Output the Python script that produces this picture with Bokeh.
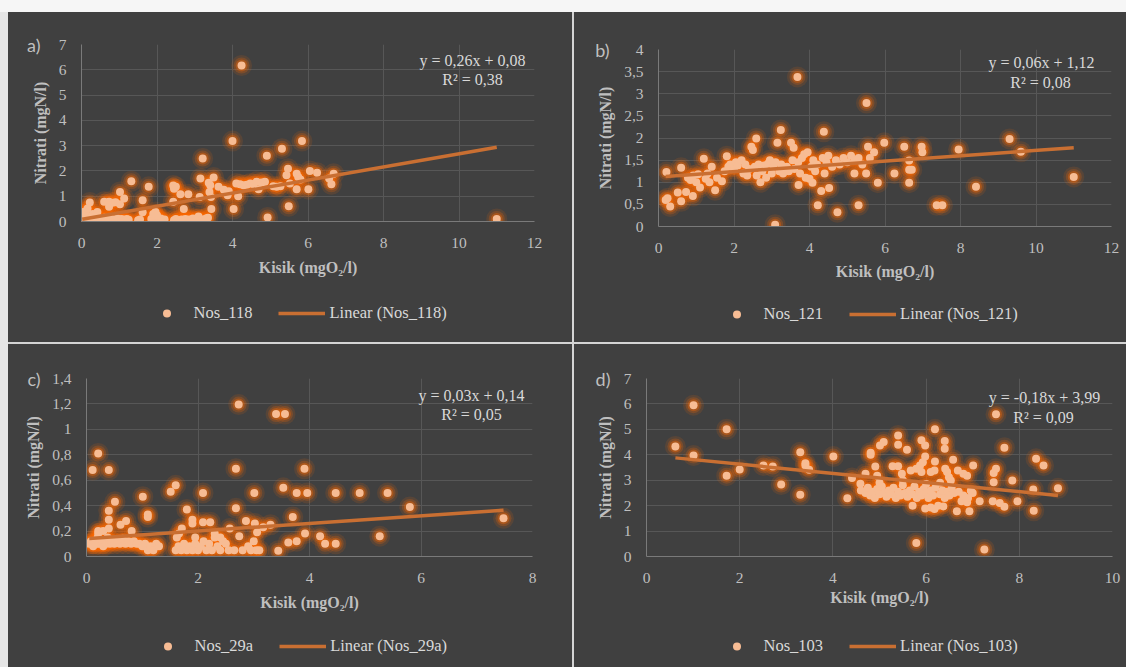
from bokeh.plotting import figure
from bokeh.models import (Range1d, FixedTicker, CustomJSTickFormatter, Legend,
                          LegendItem, Label, ColumnDataSource, Spacer, LinearAxis)
from bokeh.layouts import column, row
from bokeh.embed import file_html
from bokeh.resources import INLINE

# ---------------- data ----------------
nos118_pts = [
    (0.05,0.1),(0.08,0.05),(0.1,0.15),(0.12,0.05),(0.15,0.2),(0.18,0.1),(0.2,0.05),(0.22,0.12),
    (0.25,0.08),(0.28,0.15),(0.3,0.05),(0.33,0.1),(0.35,0.2),(0.4,0.08),(0.45,0.12),(0.5,0.05),
    (0.55,0.1),(0.6,0.15),(0.65,0.08),(0.7,0.05),(0.75,0.12),(0.8,0.1),(0.85,0.05),(0.9,0.08),
    (0.95,0.12),(1.0,0.05),(1.05,0.1),(1.1,0.08),(1.15,0.05),(1.2,0.1),(1.25,0.07),(1.5,0.05),
    (1.55,0.08),(1.85,0.1),(1.9,0.05),(1.95,0.15),(2.0,0.08),(2.05,0.05),(2.1,0.12),(2.15,0.05),
    (2.2,0.08),(2.45,0.05),(2.5,0.1),(2.55,0.05),(2.65,0.08),(2.7,0.05),(2.75,0.1),(2.8,0.05),
    (2.85,0.08),(2.9,0.05),(2.95,0.12),(3.05,0.1),(3.1,0.2),(3.2,0.08),(3.25,0.05),(3.3,0.12),
    (3.35,0.15),
    (0.02,0.3),(0.05,0.25),(0.1,0.4),(0.07,0.38),(0.16,0.51),(0.22,0.75),(0.42,0.38),(0.3,0.3),
    (0.6,0.78),(0.73,0.78),(0.82,0.74),(0.73,0.58),(0.9,0.76),(1.02,0.68),(1.13,0.91),(1.02,1.17),
    (1.32,1.59),(1.78,1.37),(1.62,0.84),(1.62,0.37),(1.96,0.38),(2.0,0.25),(1.9,0.3),(2.43,1.42),
    (2.5,1.37),(2.45,1.3),(2.62,1.08),(2.83,1.08),(2.43,0.78),(2.71,0.49),(3.21,2.49),(3.15,1.7),
    (3.5,1.74),(3.37,1.53),(3.41,1.43),(3.63,1.37),(3.77,1.26),(3.39,1.17),(3.87,1.04),(4.15,1.0),
    (3.13,0.97),(3.43,0.97),(4.03,0.49),(3.44,0.49),(4.0,3.18),(4.24,6.17),(4.91,2.6),(5.31,2.88),
    (5.84,3.18),(4.93,0.16),(5.49,0.6),(4.2,1.47),(4.29,1.43),(4.38,1.45),(4.47,1.5),(4.55,1.48),
    (4.64,1.57),(4.69,1.28),(4.77,1.54),(4.86,1.57),(5.08,1.39),(5.17,1.37),(5.27,1.39),(5.47,2.09),
    (5.43,1.83),(5.52,1.5),(5.7,1.89),(5.74,1.76),(5.8,1.66),(5.7,1.28),(6.01,1.28),(6.05,2.0),
    (6.24,1.93),(6.56,1.7),(6.62,1.47),(6.68,1.89),(3.9,1.2),(4.1,1.5),(11.0,0.1),
]

nos121_pts = [
    (0.21,1.23),(0.19,0.6),(0.24,0.64),(0.31,0.45),(0.51,0.77),(0.6,0.57),(0.6,1.33),(0.73,0.78),
    (0.91,0.69),(0.78,1.1),(0.85,1.05),(0.92,1.15),(1.0,1.0),(1.1,0.88),(1.05,1.18),(1.2,1.53),
    (1.25,1.08),(1.3,1.2),(1.35,1.0),(1.41,1.35),(1.5,0.82),(1.55,1.1),(1.68,1.02),(1.81,1.59),
    (1.75,1.25),(1.85,1.35),(1.9,1.4),(2.0,1.3),(2.05,1.45),(2.1,1.38),(2.2,1.5),(2.25,1.2),
    (2.3,1.4),(2.35,1.15),(2.4,1.3),(2.46,1.8),(2.5,1.73),(2.59,1.99),(2.55,1.35),(2.6,1.15),
    (2.65,1.4),(2.7,1.0),(2.75,1.25),(2.8,1.38),(2.85,1.1),(2.9,1.42),(2.95,1.5),(3.0,1.2),
    (3.05,1.35),(3.09,0.04),(3.15,1.89),(3.1,1.45),(3.2,1.25),(3.24,2.18),(3.25,1.4),(3.3,1.2),
    (3.4,1.35),(3.45,1.25),(3.51,1.89),(3.58,1.78),(3.55,1.5),(3.6,1.3),(3.68,3.38),(3.71,0.94),
    (3.7,1.45),(3.75,1.2),(3.8,1.55),(3.86,1.63),(3.95,1.68),(3.9,1.1),(4.0,1.08),(4.08,0.99),
    (4.05,1.35),(4.1,1.5),(4.15,1.25),(4.22,0.48),(4.2,1.4),(4.31,0.8),(4.38,2.14),(4.35,1.55),
    (4.4,1.2),(4.45,1.45),(4.52,0.87),(4.5,1.6),(4.6,1.35),(4.7,1.5),(4.74,0.32),(4.8,1.4),
    (4.9,1.55),(5.0,1.45),(5.1,1.6),(5.19,1.2),(5.2,1.5),(5.3,0.48),(5.3,1.55),(5.4,1.4),
    (5.5,1.2),(5.51,2.79),(5.55,1.8),(5.6,1.55),(5.71,1.68),(5.81,0.99),(5.98,1.89),(6.25,1.2),
    (6.51,1.8),(6.64,1.49),(6.64,1.28),(6.71,1.28),(6.64,0.99),(6.97,1.8),(6.99,1.68),(7.37,0.48),
    (7.52,0.48),(7.95,1.74),(8.41,0.9),(9.3,1.98),(9.6,1.69),(11.0,1.12),
]

nos29a_pts = [
    (0.05,0.1),(0.08,0.12),(0.1,0.1),(0.12,0.08),(0.15,0.12),(0.18,0.1),(0.2,0.15),(0.22,0.1),
    (0.25,0.12),(0.28,0.1),(0.3,0.08),(0.32,0.12),(0.35,0.1),(0.38,0.15),(0.42,0.1),(0.45,0.12),
    (0.5,0.1),(0.55,0.12),(0.6,0.1),(0.65,0.14),(0.7,0.1),(0.75,0.12),(0.8,0.1),(0.85,0.12),
    (0.9,0.1),(0.95,0.1),(1.0,0.08),(1.05,0.1),(1.1,0.05),(1.15,0.08),(1.2,0.05),(1.25,0.1),
    (1.3,0.08),
    (0.11,0.68),(0.21,0.81),(0.4,0.68),(0.21,0.2),(0.21,0.18),(0.4,0.36),(0.4,0.29),(0.4,0.22),
    (0.51,0.43),(0.61,0.25),(0.71,0.28),(0.81,0.2),(1.01,0.47),(1.1,0.33),(1.1,0.31),(0.3,0.2),
    (1.6,0.05),(1.65,0.08),(1.7,0.05),(1.75,0.1),(1.8,0.05),(1.85,0.08),(1.9,0.05),(1.95,0.1),
    (2.0,0.05),(2.05,0.08),(2.1,0.12),(2.15,0.05),(2.2,0.1),(2.25,0.05),(2.3,0.15),(2.35,0.08),
    (2.4,0.05),(2.45,0.12),(2.5,0.1),(2.55,0.05),(2.65,0.05),(2.8,0.05),(2.9,0.08),(2.95,0.05),
    (3.0,0.12),(3.05,0.05),(3.1,0.05),
    (1.51,0.51),(1.6,0.56),(1.62,0.15),(1.66,0.18),(1.71,0.22),(1.8,0.37),(1.9,0.29),(1.9,0.26),
    (2.09,0.5),(2.09,0.27),(2.22,0.27),(2.57,0.22),(2.68,0.38),(2.68,0.69),(2.73,1.195),(2.74,0.16),
    (2.86,0.28),(3.01,0.5),(3.02,0.26),(3.06,0.19),(3.17,0.23),(3.3,0.25),(3.4,1.12),(3.44,0.045),
    (3.53,0.54),(3.56,1.12),(3.62,0.11),(3.7,0.31),(3.77,0.12),(3.77,0.5),(3.91,0.69),(3.92,0.18),
    (3.96,0.5),(4.19,0.16),(4.28,0.1),(4.47,0.1),(4.47,0.5),(4.9,0.5),(5.26,0.16),(5.4,0.5),
    (5.8,0.39),(7.48,0.3),(2.3,0.18),(2.4,0.15),(1.95,0.15),
]

nos103_pts = [
    (0.62,4.33),(1.01,5.95),(1.01,3.97),(1.72,5.0),(1.72,3.18),(2.0,3.42),(2.51,3.58),(2.71,3.54),
    (2.89,2.83),(3.3,4.1),(3.3,2.43),(3.41,3.67),(3.41,3.58),(3.49,3.41),(4.01,3.93),(4.41,3.09),
    (4.31,2.29),(4.59,2.86),
    (4.7,3.25),(4.81,4.08),(4.81,4.0),(4.91,3.54),(4.95,3.18),(5.01,4.37),(5.09,4.5),(5.28,3.55),
    (5.4,3.55),(5.4,4.76),(5.4,4.39),(5.48,3.25),(5.59,4.2),(5.67,3.38),(5.79,3.45),(5.87,3.58),
    (5.9,4.57),(5.9,3.32),(5.93,3.71),(5.98,4.37),(5.98,3.93),(6.1,3.32),(6.18,3.38),(6.19,5.0),
    (6.19,3.74),(6.4,4.54),(6.4,4.24),(6.41,3.45),(6.45,3.32),(6.49,3.12),(6.53,2.99),(6.58,3.8),
    (6.68,3.38),(6.8,3.25),(6.88,3.18),(7.01,3.58),
    (4.6,2.6),(4.7,2.5),(4.75,2.7),(4.8,2.4),(4.85,2.55),(4.9,2.3),(4.95,2.65),(5.0,2.45),
    (5.05,2.75),(5.1,2.5),(5.15,2.35),(5.2,2.6),(5.25,2.45),(5.3,2.7),(5.35,2.3),(5.4,2.55),
    (5.45,2.4),(5.5,2.8),(5.55,2.5),(5.6,2.35),(5.65,2.6),(5.7,2.45),(5.71,2.0),(5.75,2.75),
    (5.8,2.3),(5.85,2.55),(5.9,2.4),(5.95,2.65),(5.98,1.89),(6.0,2.5),(6.05,2.3),(6.1,1.93),
    (6.1,2.6),(6.15,2.4),(6.18,1.87),(6.2,2.7),(6.26,2.0),(6.3,2.45),(6.37,1.97),(6.35,2.6),
    (6.4,2.3),(6.45,2.55),(6.5,2.4),(6.55,2.7),(6.6,2.5),(6.66,1.78),(6.7,2.55),(6.76,2.17),
    (6.8,2.4),(6.88,2.13),(6.9,2.3),(6.93,1.78),(6.96,2.59),(7.0,2.5),(5.0,2.9),(5.5,3.0),
    (6.0,2.85),(6.3,2.9),
    (7.15,2.17),(7.43,2.17),(7.45,3.28),(7.45,2.92),(7.5,3.45),(7.5,5.59),(7.58,2.1),(7.68,4.28),
    (7.68,1.96),(7.85,2.99),(7.96,2.17),(8.3,2.63),(8.31,1.8),(8.36,3.84),(8.52,3.58),(8.83,2.68),
    (5.79,0.53),(7.25,0.28),
]

series_names = ["Nos_118", "Nos_121", "Nos_29a", "Nos_103"]
panel_tags = ["a)", "b)", "c)", "d)"]
trend_slope = [0.26, 0.06, 0.03, -0.18]
trend_icpt = [0.08, 1.12, 0.14, 3.99]
eq_texts = ["y = 0,26x + 0,08", "y = 0,06x + 1,12", "y = 0,03x + 0,14", "y = -0,18x + 3,99"]
r2_texts = ["R² = 0,38", "R² = 0,08", "R² = 0,05", "R² = 0,09"]
x_ticks = [[0, 2, 4, 6, 8, 10, 12], [0, 2, 4, 6, 8, 10, 12], [0, 2, 4, 6, 8], [0, 2, 4, 6, 8, 10]]
y_ticks = [[0, 1, 2, 3, 4, 5, 6, 7],
           [0, 0.5, 1, 1.5, 2, 2.5, 3, 3.5, 4],
           [0, 0.2, 0.4, 0.6, 0.8, 1.0, 1.2, 1.4],
           [0, 1, 2, 3, 4, 5, 6, 7]]
x_title = "Kisik (mgO₂/l)"
y_title = "Nitrati (mgN/l)"
all_pts = [nos118_pts, nos121_pts, nos29a_pts, nos103_pts]

# ---------------- layout / style ----------------
BG = "#404040"
GRID = "#575757"
AXIS = "#7a7a7a"
TICK_C = "#bfbfbf"
TEXT_C = "#d9d9d9"
DOT = "#F7BC94"
GLOW = "#ff6a00"
TREND = "#C96F32"
SERIF = "Liberation Serif"
GAP = "#d4d4d4"
NAN = float("nan")

# main figure geometry (w, h, borders), legend strip height and legend offset, tag standoff
geom = [
    dict(w=564, h=278, l=73, r=38, t=32, b=69, lh=52, leg=(61.5, 19), eq=(391, 161), r2=(391, 142), tag=-18, xs=8),
    dict(w=552, h=278, l=84, r=15, t=37, b=64, lh=52, leg=(54.5, 18), eq=(383, 164), r2=(382, 144), tag=-21, xs=7),
    dict(w=564, h=282, l=78, r=40, t=34, b=70, lh=41, leg=(57.5, 11), eq=(385, 161), r2=(385, 142), tag=-24, xs=8),
    dict(w=552, h=282, l=72, r=14, t=34, b=70, lh=41, leg=(66.5, 11), eq=(398, 159), r2=(397, 139), tag=-23, xs=3),
]

fmt_code = "return (Math.round(tick*10)/10).toString().replace('.', ',');"


def style_axis(ax):
    ax.major_tick_line_color = None
    ax.minor_tick_line_color = None
    ax.major_label_text_font = SERIF
    ax.major_label_text_font_size = "15.5px"
    ax.major_label_text_color = TICK_C
    ax.axis_label_text_font = SERIF
    ax.axis_label_text_font_size = "16px"
    ax.axis_label_text_font_style = "bold"
    ax.axis_label_text_color = TICK_C


def make_panel(i):
    g = geom[i]
    pts = all_pts[i]
    xs = [p[0] for p in pts]
    ys = [p[1] for p in pts]
    src = ColumnDataSource(dict(x=xs, y=ys))
    p = figure(width=g["w"], height=g["h"], title=None, toolbar_location=None,
               output_backend="svg",
               x_range=Range1d(x_ticks[i][0], x_ticks[i][-1]),
               y_range=Range1d(y_ticks[i][0], y_ticks[i][-1]),
               min_border_left=g["l"], min_border_right=g["r"],
               min_border_top=g["t"], min_border_bottom=g["b"])
    p.background_fill_color = BG
    p.border_fill_color = BG
    p.outline_line_color = None

    for ax, ticks in ((p.xaxis, x_ticks[i]), (p.yaxis, y_ticks[i])):
        ax.ticker = FixedTicker(ticks=ticks)
        ax.formatter = CustomJSTickFormatter(code=fmt_code)
        ax.axis_line_color = AXIS
        ax.axis_line_width = 1
        style_axis(ax)
    p.xaxis.major_label_standoff = 10
    p.yaxis.major_label_standoff = 9
    p.xaxis.axis_label = x_title
    p.yaxis.axis_label = y_title
    p.xaxis.axis_label_standoff = g["xs"]
    p.yaxis.axis_label_standoff = 7
    p.xgrid.grid_line_color = GRID
    p.ygrid.grid_line_color = GRID

    # panel tag a), b) ... carried by an extra left axis at the top of the y range
    tag_ax = LinearAxis(ticker=FixedTicker(ticks=[y_ticks[i][-1]]),
                        formatter=CustomJSTickFormatter(args=dict(t=panel_tags[i]), code="return t;"),
                        axis_line_color=None, major_label_standoff=g["tag"])
    style_axis(tag_ax)
    tag_ax.major_label_text_font = "Lato"
    tag_ax.major_label_text_font_size = "18px"
    p.add_layout(tag_ax, "left")

    # soft glow + dots
    p.scatter("x", "y", source=src, size=21, fill_color=GLOW, fill_alpha=0.12, line_color=None)
    p.scatter("x", "y", source=src, size=16, fill_color=GLOW, fill_alpha=0.22, line_color=None)
    p.scatter("x", "y", source=src, size=12, fill_color=GLOW, fill_alpha=0.35, line_color=None)
    p.scatter("x", "y", source=src, size=8, fill_color=DOT, line_color=None)

    x0, x1 = min(xs), max(xs)
    tx = [x0, x1]
    ty = [trend_slope[i] * x0 + trend_icpt[i], trend_slope[i] * x1 + trend_icpt[i]]
    p.line(tx, ty, line_color=TREND, line_width=3.5)

    for txt, pos in ((eq_texts[i], g["eq"]), (r2_texts[i], g["r2"])):
        p.add_layout(Label(x=pos[0], y=pos[1], x_units="screen", y_units="screen", text=txt,
                           text_align="center", text_baseline="middle", text_font=SERIF,
                           text_font_size="16px", text_color=TEXT_C))

    # legend strip under the chart (frame aligned with the chart frame)
    q = figure(width=g["w"], height=g["lh"], title=None, toolbar_location=None,
               output_backend="svg", x_axis_type=None, y_axis_type=None,
               x_range=Range1d(0, 1), y_range=Range1d(0, 1),
               min_border_left=g["l"], min_border_right=g["r"], min_border_top=0, min_border_bottom=0)
    q.background_fill_alpha = 0
    q.border_fill_alpha = 0
    q.outline_line_color = None
    q.styles = {"background-color": BG}
    dot_r = q.scatter(x=[NAN], y=[NAN], size=8, fill_color=DOT, line_color=None)
    line_r = q.line(x=[NAN, NAN], y=[NAN, NAN], line_color=TREND, line_width=3.5)
    leg = Legend(items=[LegendItem(label=series_names[i], renderers=[dot_r]),
                        LegendItem(label="Linear (%s)" % series_names[i], renderers=[line_r])],
                 location=g["leg"], orientation="horizontal",
                 background_fill_alpha=0, border_line_color=None,
                 label_text_font=SERIF, label_text_font_size="16.5px", label_text_color=TEXT_C,
                 glyph_width=47, glyph_height=20, label_standoff=4, spacing=26,
                 padding=0, margin=0)
    q.add_layout(leg)
    return column(p, q, styles={"background-color": BG})


cells = [make_panel(i) for i in range(4)]
top_row = row(cells[0], Spacer(width=2, height=330, styles={"background-color": GAP}), cells[1])
bottom_row = row(cells[2], Spacer(width=2, height=323, styles={"background-color": GAP}), cells[3])
mid_gap = Spacer(width=1118, height=2, styles={"background-color": GAP})
body = column(top_row, mid_gap, bottom_row)
left_strip = Spacer(width=8, height=655, styles={"background-color": "#e6e6e6"})
top_strip = Spacer(width=1126, height=12, styles={"background-color": "#f6f6f6"})
page = column(top_strip, row(left_strip, body))

open("out.html", "w").write(file_html(page, INLINE))
